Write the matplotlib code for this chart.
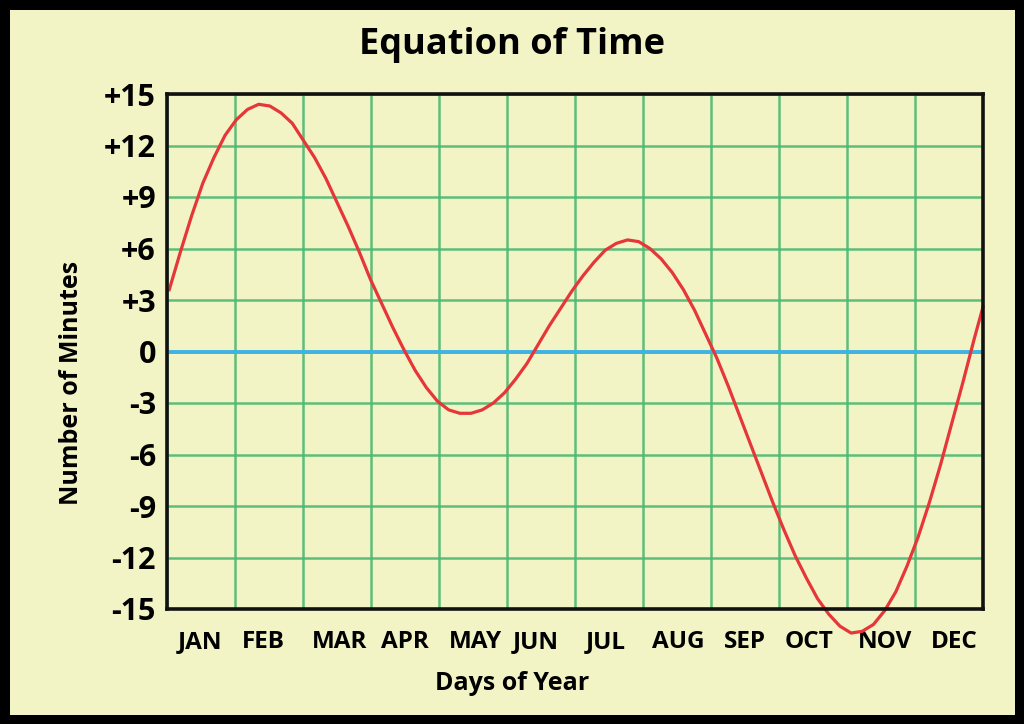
import numpy as np
import matplotlib
matplotlib.use("Agg")
import matplotlib.pyplot as plt
from matplotlib.patches import Rectangle
from matplotlib.transforms import blended_transform_factory

# ---- data ----
months = ["JAN", "FEB", "MAR", "APR", "MAY", "JUN", "JUL", "AUG", "SEP", "OCT", "NOV", "DEC"]
ytick_vals = [15, 12, 9, 6, 3, 0, -3, -6, -9, -12, -15]
ytick_labels = ["+15", "+12", "+9", "+6", "+3", "0", "-3", "-6", "-9", "-12", "-15"]

# day of year (every 5 days) and equation of time in minutes
days = [1, 6, 11, 16, 21, 26, 31, 36, 41, 46, 51, 56, 61, 66, 71, 76, 81, 86, 91,
        96, 101, 106, 111, 116, 121, 126, 131, 136, 141, 146, 151, 156, 161, 166,
        171, 176, 181, 186, 191, 196, 201, 206, 211, 216, 221, 226, 231, 236, 241,
        246, 251, 256, 261, 266, 271, 276, 281, 286, 291, 296, 301, 306, 311, 316,
        321, 326, 331, 336, 341, 346, 351, 356, 361, 365]
minutes = [3.6, 5.8, 7.9, 9.8, 11.3, 12.6, 13.5, 14.1, 14.4, 14.3, 13.9, 13.3,
           12.3, 11.3, 10.1, 8.7, 7.3, 5.8, 4.2, 2.8, 1.4, 0.1, -1.1, -2.1,
           -2.9, -3.4, -3.6, -3.6, -3.4, -3.0, -2.4, -1.6, -0.7, 0.4, 1.5, 2.5,
           3.5, 4.4, 5.2, 5.9, 6.3, 6.5, 6.4, 6.0, 5.4, 4.6, 3.6, 2.4, 1.0,
           -0.4, -2.0, -3.7, -5.4, -7.1, -8.8, -10.4, -11.9, -13.2, -14.4, -15.3,
           -16.0, -16.4, -16.3, -15.9, -15.1, -14.0, -12.5, -10.8, -8.8, -6.6,
           -4.2, -1.8, 0.7, 2.6]

BG = "#F3F4C6"
GRID = "#4DB873"
ZERO = "#3FB3E3"
RED = "#E5363A"
FONT = "Open Sans"

# label placement (pixel centres in the 1024-wide figure, as in the original)
label_px = [200, 263.5, 340, 404.5, 475, 536, 606, 678, 744.5, 809, 885.5, 954.5]
label_pos = [(p - 167) / 68.0 for p in label_px]

fig = plt.figure(figsize=(10.24, 7.24), dpi=100, facecolor=BG)
# black outer frame
fig.patches.append(Rectangle((5/1024, 4.5/724), (1019.5-5)/1024, (719.5-4.5)/724,
                             transform=fig.transFigure, facecolor="none",
                             edgecolor="black", linewidth=7.2, zorder=10))

ax = fig.add_axes([167/1024, 1-609/724, 816/1024, 515/724])
ax.set_facecolor(BG)

x = np.array(days, dtype=float) * 12.0 / 365.0
ax.set_xlim(0, 12)
ax.set_ylim(-15, 15)

# grid
ax.set_xticks(np.arange(13))
ax.set_xticklabels([])
ax.set_yticks(ytick_vals)
ax.set_yticklabels(ytick_labels, fontsize=22, fontweight="bold", family=FONT)
ax.tick_params(which="both", length=0)
ax.tick_params(axis="y", pad=8)
ax.grid(True, which="major", color=GRID, linewidth=1.8, alpha=0.9)
ax.set_axisbelow(True)
ax.axhline(0, color=ZERO, linewidth=2.8, zorder=2)

# month labels, baseline aligned
trans = blended_transform_factory(ax.transData, ax.transAxes)
for pos, name in zip(label_pos, months):
    ax.text(pos, (609 - 648) / 515, name, transform=trans, ha="center",
            va="baseline", fontsize=17.5, fontweight="bold", family=FONT)

ax.plot(x, minutes, color=RED, linewidth=2.3, clip_on=False, zorder=3)

for s in ax.spines.values():
    s.set_color("#111111")
    s.set_linewidth(2.6)
    s.set_zorder(4)

fig.text(0.5, 1-45/724, "Equation of Time", ha="center", va="center",
         fontsize=26, fontweight="bold", family=FONT)
fig.text(0.5, 1-683/724, "Days of Year", ha="center", va="center",
         fontsize=18, fontweight="bold", family=FONT)
fig.text(72/1024, 1-383/724, "Number of Minutes", ha="center", va="center",
         rotation=90, fontsize=18, fontweight="bold", family=FONT)

fig.savefig("out.png", dpi=100, facecolor=fig.get_facecolor())
